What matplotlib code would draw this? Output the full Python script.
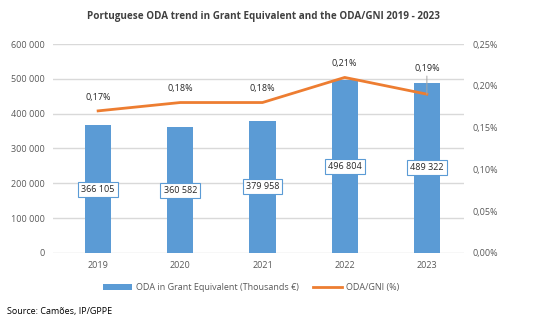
import matplotlib.pyplot as plt
import numpy as np

years = ["2019", "2020", "2021", "2022", "2023"]
oda_grant = [366105, 360582, 379958, 496804, 489322]
oda_gni = [0.17, 0.18, 0.18, 0.21, 0.19]

BAR_COLOR = "#5b9bd5"
LINE_COLOR = "#ed7d31"
TEXT_COLOR = "#595959"
GRID_COLOR = "#d9d9d9"

plt.rcParams["font.family"] = ["Open Sans", "DejaVu Sans"]


def fmt_thousands(v):
    return f"{int(v):,}".replace(",", " ")


fig = plt.figure(figsize=(5.4, 3.26), dpi=100)
ax = fig.add_axes([0.098, 0.224, 0.761, 0.641])
ax2 = ax.twinx()

x = np.arange(len(years))
bars = ax.bar(x, oda_grant, width=0.32, color=BAR_COLOR, zorder=2,
              label="ODA in Grant Equivalent (Thousands €)")
line, = ax2.plot(x, oda_gni, color=LINE_COLOR, linewidth=2, zorder=3,
                 label="ODA/GNI (%)")

ax.set_ylim(0, 600000)
ax.set_yticks(np.arange(0, 600001, 100000))
ax.set_yticklabels([fmt_thousands(v) for v in np.arange(0, 600001, 100000)])
ax2.set_ylim(0, 0.25)
ax2.set_yticks(np.arange(0, 0.2501, 0.05))
ax2.set_yticklabels([f"{v:.2f}%".replace(".", ",") for v in np.arange(0, 0.2501, 0.05)])
ax.set_xlim(-0.55, 4.45)
ax.set_xticks(x)
ax.set_xticklabels(years)

for a in (ax, ax2):
    for s in a.spines.values():
        s.set_visible(False)
    a.tick_params(length=0, labelsize=6.5, colors=TEXT_COLOR, pad=6)
ax.yaxis.grid(True, color=GRID_COLOR, linewidth=1, zorder=0)
ax.set_axisbelow(True)

# value boxes centred on each bar
for xi, v in zip(x, oda_grant):
    ax.text(xi, v / 2, fmt_thousands(v), ha="center", va="center", fontsize=6.5,
            color="#262626", zorder=4,
            bbox=dict(boxstyle="square,pad=0.35", fc="white", ec=BAR_COLOR, lw=0.8))

# percentage labels above the line
for xi, v in zip(x, oda_gni):
    txt = f"{v:.2f}%".replace(".", ",")
    if xi == 4:
        ax2.annotate(txt, (xi, v), xytext=(xi, v + 0.025), ha="center", va="bottom",
                     fontsize=6.5, color="#262626", zorder=5,
                     arrowprops=dict(arrowstyle="-", color="#a6a6a6", lw=0.7,
                                     shrinkA=0, shrinkB=0))
    else:
        ax2.text(xi, v + 0.011, txt, ha="center", va="bottom", fontsize=6.5,
                 color="#262626", zorder=5)

fig.text(0.487, 0.95, "Portuguese ODA trend in Grant Equivalent and the ODA/GNI 2019 - 2023",
         ha="center", va="center", fontsize=7.1, fontweight="bold", color="#404040")

fig.legend([bars, line], [bars.get_label(), line.get_label()], loc="center",
           bbox_to_anchor=(0.465, 0.117), ncol=2, frameon=False, fontsize=6.5,
           labelcolor=TEXT_COLOR, handlelength=3.2, handleheight=0.6,
           columnspacing=1.6, handletextpad=0.4)

fig.text(0.013, 0.045, "Source: Camões, IP/GPPE", ha="left", va="center",
         fontsize=6.5, color="#000000")

fig.savefig("out.png", dpi=100)
